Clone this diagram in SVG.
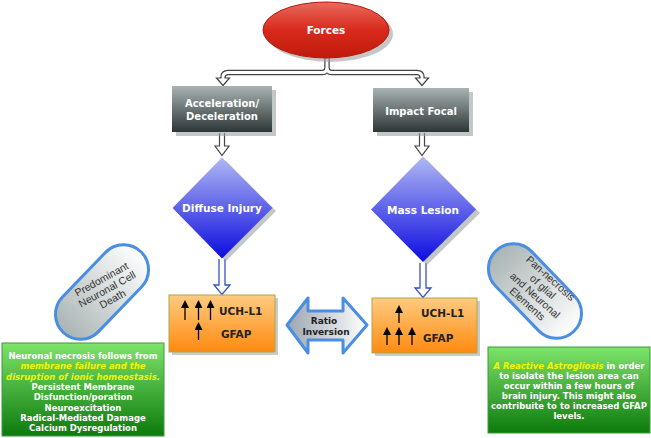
<svg xmlns="http://www.w3.org/2000/svg" width="651" height="438" viewBox="0 0 651 438">
<defs>
<linearGradient id="gRed" x1="0" y1="0" x2="0" y2="1"><stop offset="0" stop-color="#ea6a5e"/><stop offset="0.5" stop-color="#d82a1c"/><stop offset="1" stop-color="#c01a0c"/></linearGradient>
<linearGradient id="gGray" x1="0" y1="0" x2="0" y2="1"><stop offset="0" stop-color="#a9b3b3"/><stop offset="1" stop-color="#2c3636"/></linearGradient>
<linearGradient id="gBlue" x1="0" y1="0" x2="0" y2="1"><stop offset="0" stop-color="#b0b8f2"/><stop offset="1" stop-color="#0c0ce0"/></linearGradient>
<linearGradient id="gOrange" x1="0" y1="0" x2="0" y2="1"><stop offset="0" stop-color="#ffcb80"/><stop offset="1" stop-color="#ff8a10"/></linearGradient>
<linearGradient id="gGreen" x1="0" y1="0" x2="0" y2="1"><stop offset="0" stop-color="#7ee46a"/><stop offset="1" stop-color="#0c7a0c"/></linearGradient>
<linearGradient id="gPill" x1="0" y1="0" x2="1" y2="0"><stop offset="0" stop-color="#a9b4b4"/><stop offset="1" stop-color="#ffffff"/></linearGradient>
<linearGradient id="gRatio" x1="0" y1="0" x2="1" y2="0"><stop offset="0" stop-color="#9ba6b0"/><stop offset="1" stop-color="#ffffff"/></linearGradient>
<marker id="up" markerWidth="8" markerHeight="8" refX="4" refY="4" orient="auto" markerUnits="userSpaceOnUse" viewBox="0 0 8 8"><path d="M0,0 L8,4 L0,8 Z" fill="#000"/></marker>
</defs>
<style>
.w{font-family:"DejaVu Sans",Verdana,sans-serif;font-weight:bold;fill:#fff;text-anchor:middle}
.d{font-family:"DejaVu Sans",Verdana,sans-serif;font-weight:bold;fill:#222}
.g{font-family:"DejaVu Sans",Verdana,sans-serif;font-weight:bold;fill:#fff;font-size:8.5px;text-anchor:middle}
.y{fill:#f4f400;font-style:italic}
.p{font-family:"Liberation Sans",Arial,sans-serif;font-size:10.5px;fill:#333;text-anchor:middle}
.sh{fill:#9aa2a2;opacity:0.6}
.ua{stroke:#000;stroke-width:1.3;marker-end:url(#up)}
.co{fill:none;stroke:#444;stroke-width:5.5}
.ci{fill:none;stroke:#fff;stroke-width:3}
.hd{fill:#fff;stroke:#444;stroke-width:1.2}
.hb{fill:#fff;stroke:#3550c8;stroke-width:1.3}
</style>

<g id="connectors">
<path class="co" d="M327,57 V68 Q327,72.5 322,72.5 H228 Q223,72.5 223,77.5 V79"/>
<path class="co" d="M327,68 Q327,72.5 332,72.5 H417 Q422,72.5 422,77.5 V79"/>
<path class="ci" d="M327,57 V68 Q327,72.5 322,72.5 H228 Q223,72.5 223,77.5 V79.5"/>
<path class="ci" d="M327,68 Q327,72.5 332,72.5 H417 Q422,72.5 422,77.5 V79.5"/>
<path class="hd" d="M221.5,78 H216.5 L223,85.5 L229.5,78 H224.5"/>
<path class="hd" d="M420.5,78 H415.5 L422,85.5 L428.5,78 H423.5"/>
<path class="hd" d="M219.5,133 V146 H215 L222,155.5 L229,146 H224.5 V133"/>
<path class="hd" d="M419.5,133 V146 H415 L422,155.5 L429,146 H424.5 V133"/>
<path class="hb" d="M219,259 V285 H214 L222,294.5 L230,285 H225 V259"/>
<path class="hb" d="M420,263 V288 H415 L423,297.5 L431,288 H426 V263"/>
</g>

<g id="forces">
<ellipse cx="330" cy="34" rx="63" ry="28" fill="#a0a0a0" opacity="0.6"/>
<ellipse cx="326" cy="30" rx="63" ry="28" fill="url(#gRed)" stroke="#b01808" stroke-width="1"/>
<text class="w" x="326" y="33.5" font-size="10.5">Forces</text>
</g>

<g id="accel">
<rect class="sh" x="176" y="90" width="100" height="46"/>
<rect x="172" y="86" width="100" height="46" fill="url(#gGray)"/>
<text class="w" x="222" y="107" font-size="10">Acceleration/</text>
<text class="w" x="222" y="119.5" font-size="10">Deceleration</text>
</g>

<g id="impact">
<rect class="sh" x="377" y="92" width="96" height="44"/>
<rect x="373" y="88" width="96" height="44" fill="url(#gGray)"/>
<text class="w" x="421" y="114.5" font-size="10">Impact Focal</text>
</g>

<g id="diffuse">
<path class="sh" d="M226,161 L276,211 L226,261 L176,211 Z"/>
<path d="M222,157.5 L272.5,208 L222,258.5 L172.5,208 Z" fill="url(#gBlue)"/>
<text class="w" x="222" y="212" font-size="10.5">Diffuse Injury</text>
</g>

<g id="mass">
<path class="sh" d="M427,160 L480,213 L427,265 L375,213 Z"/>
<path d="M423,156.5 L476,209.5 L423,262 L371,209.5 Z" fill="url(#gBlue)"/>
<text class="w" x="423" y="213.5" font-size="10.5">Mass Lesion</text>
</g>

<g id="pill-left">
<g transform="translate(102,292) rotate(-46)">
<rect x="-56" y="-25" width="112" height="50" rx="25" fill="url(#gPill)" stroke="#4a8ee2" stroke-width="3"/>
</g>
<g transform="translate(107,289) rotate(-29)">
<text class="p" x="0" y="-7.5">Predominant</text>
<text class="p" x="0" y="3.8">Neuronal Cell</text>
<text class="p" x="0" y="15">Death</text>
</g>
</g>

<g id="pill-right">
<g transform="translate(535,291) rotate(46)">
<rect x="-56" y="-25" width="112" height="50" rx="25" fill="url(#gPill)" stroke="#4a8ee2" stroke-width="3"/>
</g>
<g transform="translate(539,291) rotate(42)">
<text class="p" x="0" y="-13.5">Pan-necrosis</text>
<text class="p" x="0" y="-2">of glial</text>
<text class="p" x="0" y="9.5">and Neuronal</text>
<text class="p" x="0" y="21">Elements</text>
</g>
</g>

<g id="box-left">
<rect x="172" y="298" width="106" height="57" fill="#a8a8a8" opacity="0.6"/>
<rect x="169" y="295" width="106" height="57" fill="url(#gOrange)" stroke="#a9a84a" stroke-width="1"/>
<line class="ua" x1="185" y1="320" x2="185" y2="304"/>
<line class="ua" x1="198.5" y1="320" x2="198.5" y2="304"/>
<line class="ua" x1="210.5" y1="320" x2="210.5" y2="304"/>
<line class="ua" x1="198.5" y1="340" x2="198.5" y2="326"/>
<text class="d" x="219" y="315" font-size="10.5">UCH-L1</text>
<text class="d" x="221" y="338" font-size="10.5">GFAP</text>
</g>

<g id="ratio">
<path d="M287,325 L308,298 V311 H343 V298 L367,325 L343,353 V340 H308 V353 Z" fill="url(#gRatio)" stroke="#4a8ee2" stroke-width="3" stroke-linejoin="round"/>
<text class="d" x="324" y="323.5" font-size="9" text-anchor="middle" fill="#333">Ratio</text>
<text class="d" x="326" y="335" font-size="9" text-anchor="middle" fill="#333">Inversion</text>
</g>

<g id="box-right">
<rect x="375" y="301" width="105" height="55" fill="#a8a8a8" opacity="0.6"/>
<rect x="372" y="298" width="105" height="55" fill="url(#gOrange)" stroke="#a9a84a" stroke-width="1"/>
<line class="ua" x1="399" y1="323" x2="399" y2="309"/>
<line class="ua" x1="387" y1="345" x2="387" y2="331"/>
<line class="ua" x1="399" y1="345" x2="399" y2="331"/>
<line class="ua" x1="412" y1="345" x2="412" y2="331"/>
<text class="d" x="421" y="317" font-size="10.5">UCH-L1</text>
<text class="d" x="423" y="342" font-size="10.5">GFAP</text>
</g>

<g id="green-left">
<rect x="2" y="343" width="162" height="93" fill="url(#gGreen)" stroke="#3d9a3d" stroke-width="1"/>
<text class="g" x="83" y="359">Neuronal necrosis follows from</text>
<text class="g y" x="83" y="369.3">membrane failure and the</text>
<text class="g y" x="83" y="379.6">disruption of ionic homeostasis.</text>
<text class="g" x="83" y="389.9">Persistent Membrane</text>
<text class="g" x="83" y="400.2">Disfunction/poration</text>
<text class="g" x="83" y="410.5">Neuroexcitation</text>
<text class="g" x="83" y="420.8">Radical-Mediated  Damage</text>
<text class="g" x="83" y="431.1">Calcium Dysregulation</text>
</g>

<g id="green-right">
<rect x="488" y="347" width="162" height="86" fill="url(#gGreen)" stroke="#3d9a3d" stroke-width="1"/>
<text class="g" x="569" y="369"><tspan class="y">A Reactive Astrogliosis</tspan> in order</text>
<text class="g" x="569" y="379">to isolate the lesion area can</text>
<text class="g" x="569" y="389">occur within a few hours of</text>
<text class="g" x="569" y="399">brain injury. This might also</text>
<text class="g" x="569" y="409">contribuite to to increased GFAP</text>
<text class="g" x="569" y="419">levels.</text>
</g>
</svg>
